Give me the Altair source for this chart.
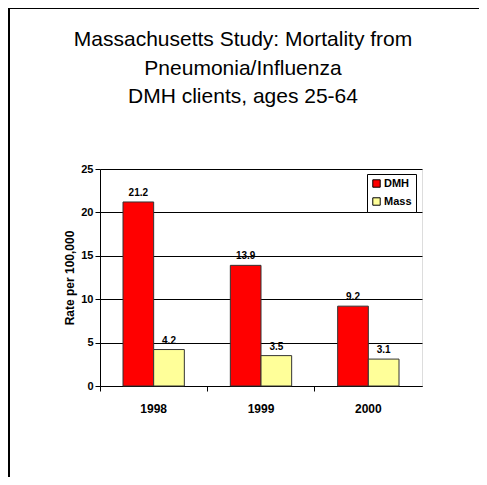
import altair as alt
import pandas as pd

years = ["1998", "1999", "2000"]
dmh = [21.2, 13.9, 9.2]
mass = [4.2, 3.5, 3.1]
series = ["DMH", "Mass"]
colors = ["#FF0000", "#FFFF99"]
title_lines = ["Massachusetts Study: Mortality from", "Pneumonia/Influenza",
               "DMH clients, ages 25-64"]

rows = []
for i, y in enumerate(years):
    rows.append({"year": y, "group": "DMH", "rate": dmh[i]})
    rows.append({"year": y, "group": "Mass", "rate": mass[i]})
df = pd.DataFrame(rows)
title_df = pd.DataFrame({"t": ["\n".join(title_lines)]})

FONT = "Liberation Sans Narrow, Liberation Sans, Arial"

x = alt.X("year:N", sort=years, title=None,
          scale=alt.Scale(paddingInner=0, paddingOuter=0),
          axis=alt.Axis(labelAngle=0, labelFontWeight="bold", labelFontSize=12,
                        labelFont="Liberation Sans", labelColor="black",
                        labelPadding=12, tickColor="black", tickSize=5,
                        domainColor="black", bandPosition=0))
xo = alt.XOffset("group:N", sort=series,
                 scale=alt.Scale(paddingOuter=0.75, paddingInner=0))
y = alt.Y("rate:Q", title="Rate  per 100,000",
          scale=alt.Scale(domain=[0, 25], nice=False),
          axis=alt.Axis(values=[0, 5, 10, 15, 20, 25], gridColor="black",
                        gridOpacity=1, labelFontWeight="bold", labelFontSize=11,
                        labelFont="Liberation Sans", labelColor="black",
                        labelFlush=False,
                        titleFont="Liberation Sans", titleFontSize=12,
                        titleFontWeight="bold", titleColor="black",
                        titlePadding=4, tickColor="black", tickSize=5,
                        domainColor="black"))

bars = alt.Chart(df).mark_bar(stroke="#333333", strokeWidth=1).encode(
    x=x, xOffset=xo, y=y,
    color=alt.Color("group:N", sort=series,
                    scale=alt.Scale(domain=series, range=colors),
                    legend=alt.Legend(title=None, orient="none", legendX=267,
                                      legendY=5, strokeColor="black",
                                      padding=4, symbolType="square",
                                      symbolSize=55, symbolStrokeColor="black",
                                      symbolStrokeWidth=1,
                                      labelFont="Liberation Sans",
                                      labelFontWeight="bold", labelFontSize=11,
                                      labelColor="black", rowPadding=5,
                                      labelOffset=2, fillColor="white")),
)

labels = alt.Chart(df).mark_text(dy=-9, fontWeight="bold", fontSize=10,
                                 font="Liberation Sans", color="black").encode(
    x=alt.X("year:N", sort=years), xOffset=alt.XOffset("group:N", sort=series),
    y="rate:Q", text=alt.Text("rate:Q", format=".1f"),
)

title = alt.Chart(title_df).mark_text(
    font=FONT, fontSize=21, color="black", lineBreak="\n", lineHeight=28.5,
    baseline="top", align="center").encode(
    x=alt.value(143), y=alt.value(-140), text="t:N")

border_left = alt.Chart(df).mark_rule(color="black", strokeWidth=2).encode(
    x=alt.value(-91), y=alt.value(-161), y2=alt.value(320))
border_top = alt.Chart(df).mark_rule(color="black", strokeWidth=2).encode(
    x=alt.value(-92), x2=alt.value(400), y=alt.value(-161))

chart = alt.layer(bars, labels, title, border_left, border_top).properties(
    width=322, height=217,
    padding={"left": 92, "top": 161, "right": 57, "bottom": 91},
    autosize=alt.AutoSizeParams(type="none"),
).configure_view(stroke="#808080").configure(background="white")

chart.save("out.html", embed_options={"renderer": "svg", "actions": False})
